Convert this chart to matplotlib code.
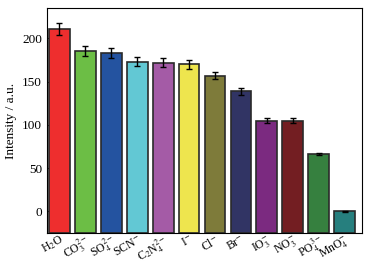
import matplotlib
matplotlib.use("Agg")
import matplotlib.pyplot as plt
import numpy as np

# Anion labels and measured intensities
labels = [r"H$_2$O", r"CO$_3^{2-}$", r"SO$_4^{2-}$", r"SCN$^{-}$", r"C$_2$N$_4^{2-}$",
          r"I$^{-}$", r"Cl$^{-}$", r"Br$^{-}$", r"IO$_3^{-}$", r"NO$_3^{-}$",
          r"PO$_4^{3-}$", r"MnO$_4^{-}$"]
values = [211, 185, 183, 173, 172, 170, 157, 139, 105, 105, 66, 0]
errors = [7, 6, 6, 5, 5, 5, 4, 4, 3, 3, 1, 0.6]
colors = ["#EE2E2E", "#6CBE45", "#2453A0", "#62C8D4", "#A45BA6", "#EEE54E",
          "#7E7B3A", "#313464", "#7B2A80", "#731E22", "#36803F", "#267F7E"]

plt.rcParams["font.family"] = ["Liberation Serif", "DejaVu Serif"]
plt.rcParams["mathtext.fontset"] = "stix"

fig = plt.figure(figsize=(3.69, 2.66), dpi=100)
ax = fig.add_axes([47 / 369, 33 / 266, 315 / 369, 225 / 266])

ymin, ymax = -25, 235
x = np.arange(len(values))
heights = np.array(values) - ymin
ax.bar(x, heights, bottom=ymin, width=0.8, color=colors,
       edgecolor="#2a2a2a", linewidth=1.2, zorder=2)
ax.errorbar(x, values, yerr=errors, fmt="none", ecolor="black",
            elinewidth=1.0, capsize=2.5, capthick=1.0, zorder=3)

ax.set_xlim(-0.48, 11.67)
ax.set_ylim(ymin, ymax)
ax.set_yticks([0, 50, 100, 150, 200])
ax.set_xticks(x)
ax.set_xticklabels(labels, rotation=30, ha="right", rotation_mode="anchor", fontsize=8.5)
ax.tick_params(axis="both", direction="in", labelsize=9.5, length=3, width=0.8,
               top=False, right=False)
ax.tick_params(axis="x", pad=0, labelsize=8.5)
ax.set_ylabel("Intensity / a.u.", fontsize=9.5, labelpad=4)
for s in ax.spines.values():
    s.set_linewidth(0.8)

fig.savefig("out.png", dpi=100)
